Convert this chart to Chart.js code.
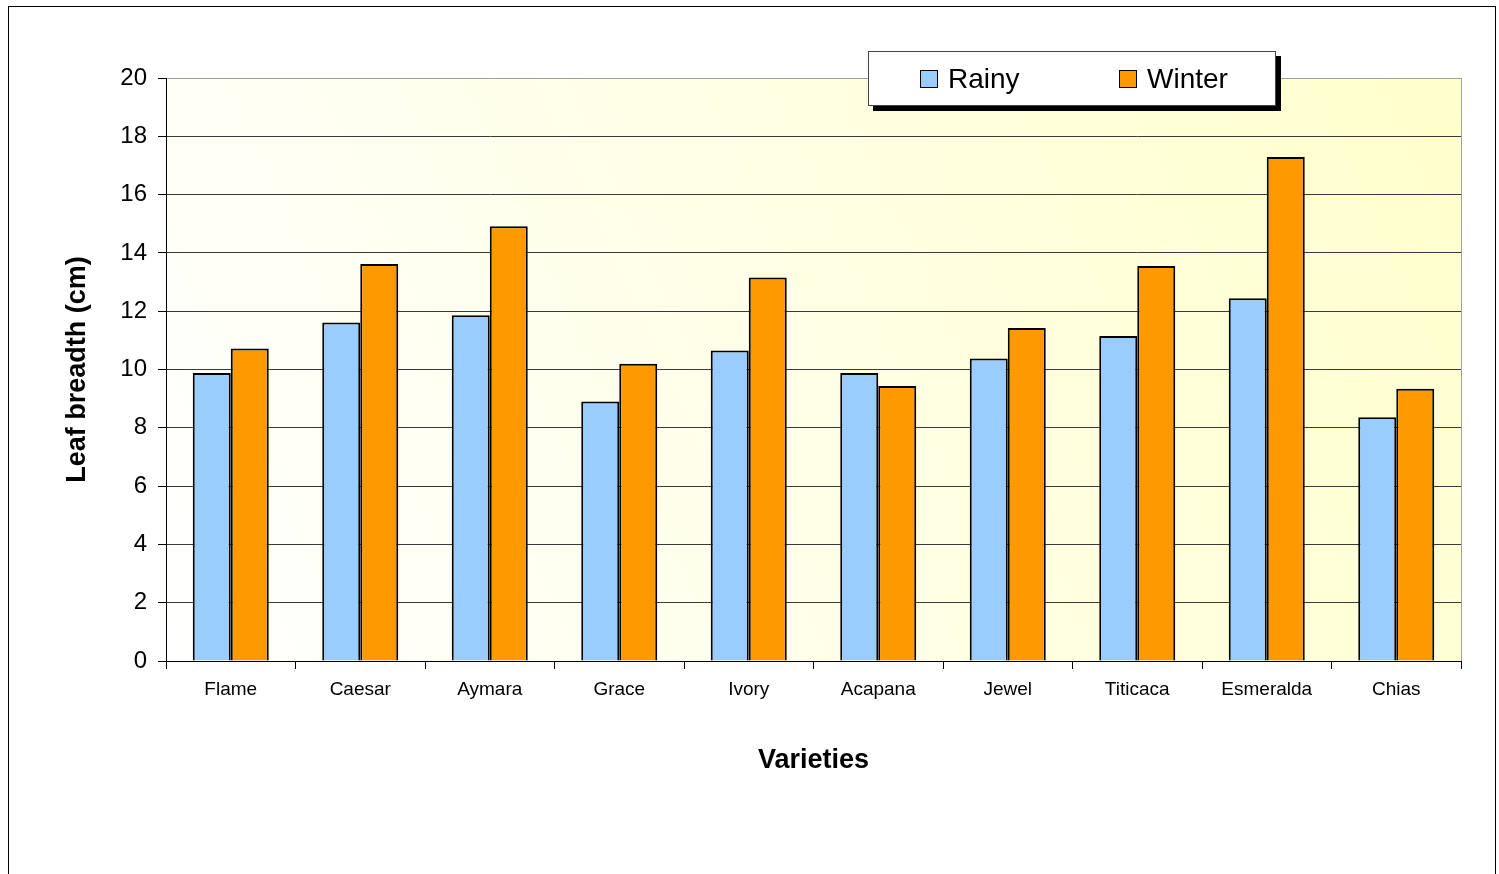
<!DOCTYPE html>
<html>
<head>
<meta charset="utf-8">
<script src="https://cdn.jsdelivr.net/npm/chart.js@4"></script>
<style>
  body { margin: 0; background: #fff; }
  #wrap { position: relative; width: 1499px; height: 874px; overflow: hidden; }
  #frame { position: absolute; left: 8px; top: 6px; width: 1488px; height: 900px; box-sizing: border-box; border: 1px solid #000; pointer-events: none; }
  #legend {
    position: absolute; left: 868px; top: 51px; width: 408px; height: 55px; box-sizing: border-box;
    background: #fff; border: 1px solid #444; box-shadow: 5px 5px 0 #000;
    font-family: "Liberation Sans", Arial, sans-serif; font-size: 28px; color: #000;
  }
  #legend .item { position: absolute; top: 10px; display: flex; align-items: center; height: 34px; }
  #legend .sw { width: 16px; height: 16px; border: 1px solid #000; margin-right: 10px; }
</style>
</head>
<body>
<div id="wrap">
  <canvas id="chart" width="1499" height="874"></canvas>
  <div id="legend"></div>
  <div id="frame"></div>
</div>
<script>
// ---- data ----
const varieties = ["Flame", "Caesar", "Aymara", "Grace", "Ivory", "Acapana", "Jewel", "Titicaca", "Esmeralda", "Chias"];
const rainy = [9.88, 11.61, 11.86, 8.90, 10.65, 9.88, 10.38, 11.15, 12.44, 8.36];
const winter = [10.72, 13.62, 14.91, 10.20, 13.16, 9.43, 11.42, 13.55, 17.29, 9.34];
const seriesNames = ["Rainy", "Winter"];
const seriesColors = ["#99ccff", "#ff9900"];

const FONT = "'Liberation Sans', Arial, sans-serif";
Chart.defaults.color = "#000";
Chart.defaults.font.family = FONT;

// pale yellow wash behind the plot, plus the grey right edge
const plotBackground = {
  id: "plotBackground",
  beforeDraw(chart) {
    const { ctx, chartArea: a } = chart;
    const g = ctx.createLinearGradient(a.left, a.bottom, a.right, a.top);
    g.addColorStop(0, "#ffffff");
    g.addColorStop(1, "#ffffcc");
    ctx.save();
    ctx.fillStyle = g;
    ctx.fillRect(a.left, a.top, a.right - a.left, a.bottom - a.top);
    ctx.restore();
  },
  afterDatasetsDraw(chart) {
    const { ctx, chartArea: a } = chart;
    ctx.save();
    ctx.strokeStyle = "#a0a0a0";
    ctx.lineWidth = 1;
    ctx.beginPath();
    ctx.moveTo(Math.round(a.right) + 0.5, a.top);
    ctx.lineTo(Math.round(a.right) + 0.5, a.bottom);
    ctx.stroke();
    ctx.restore();
  },
};

const chart = new Chart(document.getElementById("chart"), {
  type: "bar",
  data: {
    labels: varieties,
    datasets: [rainy, winter].map((vals, i) => ({
      label: seriesNames[i],
      data: vals,
      backgroundColor: seriesColors[i],
      borderColor: "#000",
      borderWidth: 2,
      categoryPercentage: 0.587,
      barPercentage: 1.0,
    })),
  },
  options: {
    responsive: false,
    animation: false,
    layout: { padding: { left: 0, top: 78, right: 38, bottom: 93 } },
    plugins: { legend: { display: false }, tooltip: { enabled: false } },
    scales: {
      x: {
        afterFit: (s) => { s.height = 120; },
        grid: { offset: true, drawOnChartArea: false, tickLength: 8, color: "#000", tickColor: "#000" },
        border: { color: "#000", width: 1 },
        ticks: { font: { size: 19 }, padding: 9, maxRotation: 0 },
        title: { display: true, text: "Varieties", font: { size: 27, weight: "bold" }, padding: { top: 0, bottom: 4 } },
      },
      y: {
        min: 0,
        max: 20,
        afterFit: (s) => { s.width = 166; },
        grid: {
          tickLength: 8,
          tickColor: "#000",
          color: (c) => (c.tick && c.tick.value === 20 ? "#a0a0a0" : "#3a3a3a"),
        },
        border: { color: "#000", width: 1 },
        ticks: { stepSize: 2, font: { size: 24 }, padding: 11 },
        title: { display: true, text: "Leaf breadth (cm)", font: { size: 27, weight: "bold" }, padding: { top: 61, bottom: 0 } },
      },
    },
  },
  plugins: [plotBackground],
});

// legend box built from the datasets
const legendEl = document.getElementById("legend");
const itemLeft = [51, 250];
legendEl.innerHTML = chart.data.datasets.map((d, i) =>
  `<div class="item" style="left:${itemLeft[i]}px"><span class="sw" style="background:${d.backgroundColor}"></span><span>${d.label}</span></div>`
).join("");
</script>
</body>
</html>
